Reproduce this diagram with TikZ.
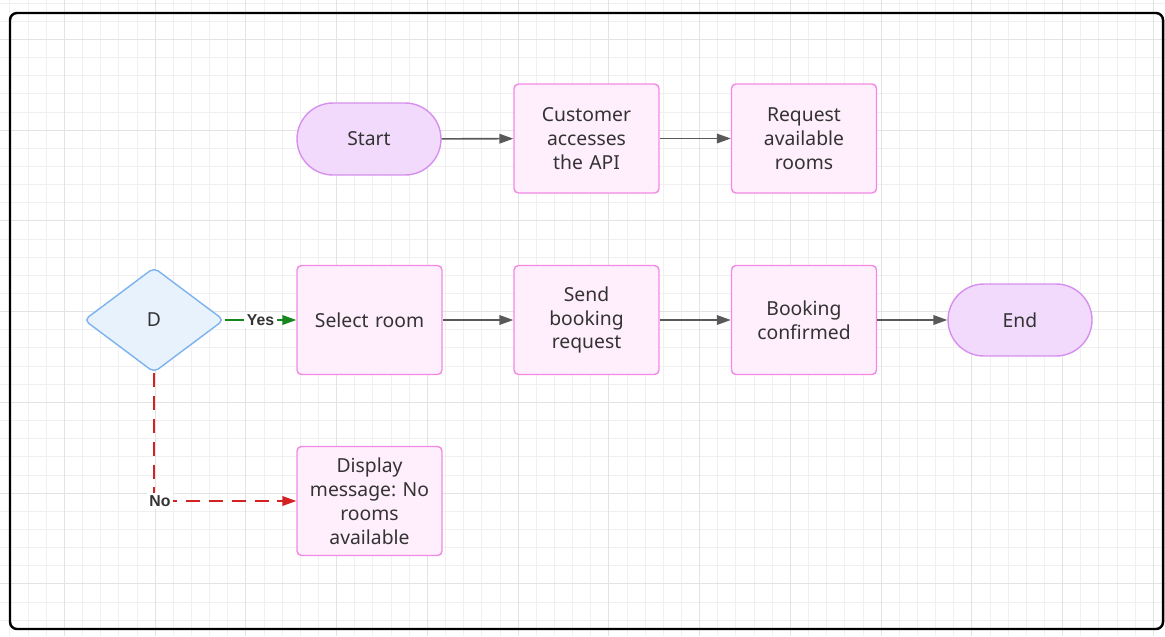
\documentclass[tikz,border=0pt]{standalone}
\usepackage{fontspec}
\setmainfont{Noto Sans}
\newfontfamily\labelfont{Liberation Sans}
\usetikzlibrary{shapes.geometric,arrows.meta,positioning}

\definecolor{txtgray}{HTML}{333333}
\definecolor{procline}{HTML}{F28AE4}
\definecolor{procfill}{HTML}{FFEEFB}
\definecolor{termline}{HTML}{D68FEE}
\definecolor{termfill}{HTML}{F2DAFC}
\definecolor{decline}{HTML}{7DB3EE}
\definecolor{decfill}{HTML}{E8F2FD}
\definecolor{flowgray}{HTML}{595959}
\definecolor{yesgreen}{HTML}{18871B}
\definecolor{nored}{HTML}{D42222}

\tikzset{
  procbox/.style={draw=procline,fill=procfill,line width=0.8pt,rounded corners=2.5pt,
    minimum width=2.9cm,minimum height=2.18cm,text width=2.6cm,align=center,
    text=txtgray,font=\fontsize{11}{13.6}\selectfont},
  termbox/.style={draw=termline,fill=termfill,line width=0.8pt,rounded corners=0.72cm,
    minimum width=2.88cm,minimum height=1.44cm,text=txtgray,font=\fontsize{11}{13.6}\selectfont},
  decbox/.style={diamond,draw=decline,fill=decfill,line width=0.8pt,rounded corners=3pt,
    minimum width=2.8cm,minimum height=2.1cm,inner sep=0pt,text=txtgray,
    font=\fontsize{11}{13.6}\selectfont},
  flow/.style={draw=flowgray,line width=0.9pt,-{Triangle[length=8pt,width=5.5pt]}},
  edgelabel/.style={font=\labelfont\bfseries\fontsize{9}{10}\selectfont,text=txtgray,fill=white,inner sep=1.5pt},
  gridline/.style={draw=black!6,line width=0.4pt},
  gridmajor/.style={draw=black!11,line width=0.5pt}
}

\begin{document}
\frenchspacing
\begin{tikzpicture}[x=0.02cm,y=-0.02cm]

\useasboundingbox (0,0) rectangle (1165,636);

%	background grid
\foreach \i in {-9,...,56} \draw[gridline] ({155+18.15*\i},0) -- ++(0,636);
\foreach \j in {-8,...,28} \draw[gridline] (0,{130+18.15*\j}) -- ++(1165,0);
\foreach \i in {-1,...,11} \draw[gridmajor] ({155+90.75*\i},0) -- ++(0,636);
\foreach \j in {-1,...,5} \draw[gridmajor] (0,{130+90.75*\j}) -- ++(1165,0);

	\draw[line width=1.4pt,rounded corners=4pt] (10,13) rectangle (1163,629);

%	top row
	\node (start) at (369,139) [termbox] {Start};
	\node (access) at (586.5,138.5) [procbox] {Customer\\accesses\\the API};
	\node (request) at (804,138.5) [procbox] {Request\\available\\rooms};

%	middle row
	\node (check) at (154,320) [decbox] {D};
	\node (select) at (369.5,320) [procbox] {Select room};
	\node (send) at (586.5,320) [procbox] {Send\\booking\\request};
	\node (confirm) at (804,320) [procbox] {Booking\\confirmed};
	\node (end) at (1020,320) [termbox] {End};

%	no rooms
	\node (nomsg) at (369.5,501) [procbox] {Display\\message: No\\rooms\\available};

	\draw[flow] (start) -- (access);
	\draw[flow] (access) -- (request);
	\draw[flow] (select) -- (send);
	\draw[flow] (send) -- (confirm);
	\draw[flow] (confirm) -- (end);

	\draw[line width=0.9pt,yesgreen,-{Triangle[length=8pt,width=5.5pt]}] (check.east) --node[edgelabel]{Yes} (select.west);
	\draw[line width=0.9pt,nored,dash pattern=on 8pt off 5pt,-{Triangle[length=8pt,width=5.5pt]}] (check.south) |-node[edgelabel,pos=0.5,xshift=0.12cm]{No} (nomsg.west);

\end{tikzpicture}
\end{document}
